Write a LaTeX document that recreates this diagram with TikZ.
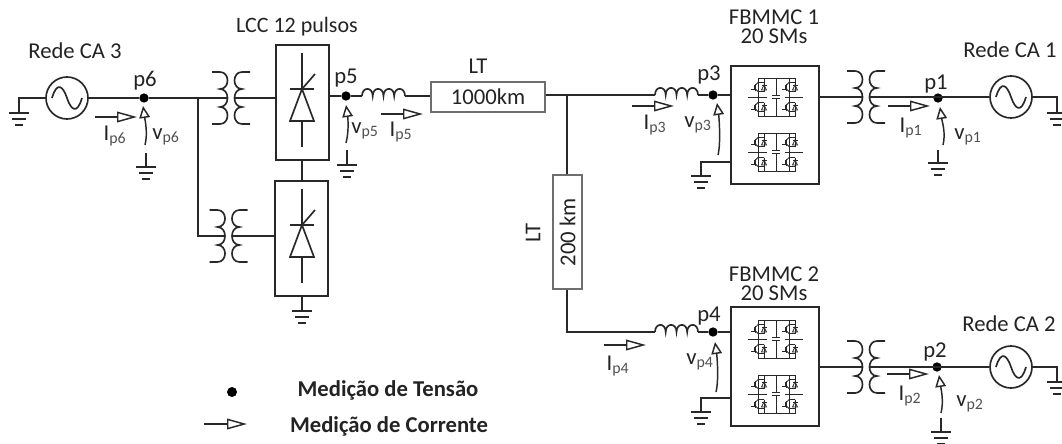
\documentclass[tikz,border=0pt]{standalone}
\usepackage{fontspec}
\setmainfont{Carlito}
\usetikzlibrary{arrows.meta, positioning}
\definecolor{inkgray}{RGB}{35, 35, 35}
\definecolor{subgray}{RGB}{80, 80, 80}
\definecolor{linegray}{RGB}{40, 40, 40}
\definecolor{ltgray}{RGB}{110, 110, 110}

\begin{document}
\begin{tikzpicture}[
  x=0.75pt, y=-0.75pt,
  wire/.style={draw=linegray, line width=1.25pt},
  thin wire/.style={draw=linegray, line width=0.55pt},
  mdot/.style={circle, fill=black, inner sep=0pt, minimum size=7pt},
  srcnode/.style={draw=linegray, line width=1.25pt, circle, inner sep=0pt, minimum size=31.5pt},
  cbox/.style={draw=linegray, line width=1.25pt, inner sep=0pt},
  ltbox/.style={draw=ltgray, line width=0.8pt, inner sep=0pt, font=\fontsize{17}{19}\selectfont, text=inkgray},
  lbl/.style={font=\fontsize{17}{19}\selectfont, text=inkgray, inner sep=0pt, align=center},
  meas/.style={font=\fontsize{17}{19}\selectfont, text=inkgray, inner sep=0pt},
  iarrow/.style={draw=linegray, line width=1.1pt, -{Triangle[open, length=15pt, width=8pt, line width=1.1pt]}},
  varrow/.style={draw=linegray, line width=1.1pt, -{Triangle[open, length=9pt, width=8pt, line width=1.1pt]}},
  gnd/.pic={
    \coordinate (-top) at (0,0);
    \draw[wire] (-10,0) -- (10,0);
    \draw[wire] (-7,6) -- (7,6);
    \draw[wire] (-4,12) -- (4,12);
  },
  trafo/.pic={
    \coordinate (-pri) at (-4,0);
    \coordinate (-sec) at (4,0);
    \draw[wire] (-19,-26) -- (-11,-26)
      .. controls (-1,-26) and (-1,-9) .. (-11,-9)
      .. controls (-1,-9) and (-1,9) .. (-11,9)
      .. controls (-1,9) and (-1,26) .. (-11,26) -- (-19,26);
    \draw[wire] (19,-26) -- (11,-26)
      .. controls (1,-26) and (1,-9) .. (11,-9)
      .. controls (1,-9) and (1,9) .. (11,9)
      .. controls (1,9) and (1,26) .. (11,26) -- (19,26);
  },
  coil/.pic={
    \coordinate (-in) at (0,0);
    \coordinate (-out) at (43,0);
    \draw[wire] (0,0) .. controls (0,-9.5) and (10.7,-9.5) .. (10.7,0)
      .. controls (10.7,-9.5) and (21.5,-9.5) .. (21.5,0)
      .. controls (21.5,-9.5) and (32.2,-9.5) .. (32.2,0)
      .. controls (32.2,-9.5) and (43,-9.5) .. (43,0);
  },
  thyristor/.pic={
    \draw[wire] (0,-47) -- (0,47);
    \draw[wire] (-12,-11) -- (12,-11);
    \draw[wire, fill=white] (0,-11) -- (12,21) -- (-12,21) -- cycle;
    \draw[wire] (0,-11) -- (13,-26);
  },
  igbt/.pic={
    \draw[thin wire] (-5,2) -- (-2,2) -- (-2,-2);
    \draw[thin wire] (-1,-3.5) -- (-1,3.5);
    \draw[thin wire] (-1,-1.5) -- (2,-4.5) -- (8,-4.5);
    \draw[thin wire] (-1,1.5) -- (2,4.5) -- (8,4.5);
    \draw[thin wire] (8,-4.5) -- (8,4.5);
    \draw[thin wire] (5.5,3) -- (10.5,3) -- (8,-2) -- cycle;
    \draw[thin wire] (5.5,-2) -- (10.5,-2);
  },
  smcell/.pic={
    \draw[thin wire] (-18,-19) -- (20,-19);
    \draw[thin wire] (-18,19) -- (20,19);
    \draw[thin wire] (0,-19) -- (0,-1.5);
    \draw[thin wire] (0,1.5) -- (0,19);
    \draw[thin wire] (-4,-1.5) -- (4,-1.5);
    \draw[thin wire] (-4,1.5) -- (4,1.5);
    \draw[thin wire] (-18,-19) -- (-18,19);
    \draw[thin wire] (13,-19) -- (13,19);
    \draw[thin wire] (-12,-19) -- (-12,-14);
    \draw[thin wire] (-12,14) -- (-12,19);
    \draw[thin wire] (19,-19) -- (19,-14);
    \draw[thin wire] (19,14) -- (19,19);
    \draw[thin wire] (-28,0) -- (-9,0);
    \draw[thin wire] (9,0) -- (27,0);
    \pic at (-20,-10) {igbt};
    \pic at (-20,10) {igbt};
    \pic at (11,-10) {igbt};
    \pic at (11,10) {igbt};
  }
]
  \useasboundingbox (0,0) rectangle (1062,443);

  % fontes
  \foreach \name/\x/\y in {src3/67/98, src1/1011/97, src2/1011/367} {
    \node[srcnode] (\name) at (\x,\y) {};
    \draw[wire] ({\x-15},\y) .. controls ({\x-10},{\y-17}) and ({\x-4},{\y-12}) .. (\x,\y)
      .. controls ({\x+4},{\y+12}) and ({\x+10},{\y+17}) .. ({\x+15},\y);
  }
  \node[lbl] (redeC) at (75,51) {Rede CA 3};
  \node[lbl] (redeA) at (1010,50) {Rede CA 1};
  \node[lbl] (redeB) at (1009,324) {Rede CA 2};

  % LCC
  \node[cbox, minimum width=39.75pt, minimum height=86.25pt] (lcc1) at (302.5,102.5) {};
  \node[cbox, minimum width=39.75pt, minimum height=86.25pt] (lcc2) at (301.5,238.5) {};
  \pic at (302,100) {thyristor};
  \pic at (302,236) {thyristor};
  \node[lbl, font=\fontsize{16.5}{19}\selectfont] (lcclbl) at (297,27) {LCC 12 pulsos};
  \draw[wire] (lcc1) -- (lcc2);

  % FBMMC
  \node[cbox, minimum width=66pt, minimum height=88.5pt] (fb1) at (775,125) {};
  \node[cbox, minimum width=66pt, minimum height=89.25pt] (fb2) at (775,366.5) {};
  \foreach \y in {97,152,339,394} \pic at (776,\y) {smcell};
  \node[lbl, font=\fontsize{17}{14.5}\selectfont] (fb1lbl) at (774,26.5) {FBMMC 1\\20 SMs};
  \node[lbl, font=\fontsize{17}{14.5}\selectfont] (fb2lbl) at (774,283.5) {FBMMC 2\\20 SMs};

  % linhas
  \node[ltbox, minimum width=85.5pt, minimum height=22.5pt] (lt1) at (488,97) {1000km};
  \node[ltbox, minimum width=85.5pt, minimum height=21.75pt, rotate=90] (lt2) at (567.5,232) {200 km};
  \node[lbl] (lt1lbl) at (478,66) {LT};
  \node[lbl, rotate=90] (lt2lbl) at (533,233) {LT};

  % trafos e bobinas
  \pic (t6) at (231,98) {trafo};
  \pic (t5) at (228.5,236) {trafo};
  \pic (t1) at (866,97) {trafo};
  \pic (t2) at (866,367) {trafo};
  \pic (l5) at (362,96) {coil};
  \pic (l3) at (655,95) {coil};
  \pic (l4) at (655,332) {coil};

  % pontos de medicao
  \foreach \name/\x/\y/\lx/\ly in {p6/144/98/145/81, p5/346/96/346/78, p3/713/95/709/75,
      p4/713/332/709/316, p1/938/98/936/84, p2/937/367/935/352} {
    \node[mdot] (\name) at (\x,\y) {};
    \node[lbl] (\name lbl) at (\lx,\ly) {\name};
  }
  \coordinate (jt) at (198,98);
  \coordinate (jlt) at (567,95);

  % terras
  \foreach \n/\x/\ya/\yb in {p6/146/153/167, p5/347/150/165, p1/938/150/163,
      p2/941/418/432, lcc/302/296/311} {
    \coordinate (gs\n) at (\x,\ya);
    \pic (g\n) at (\x,\yb) {gnd};
    \draw[wire] (gs\n) -- (g\n-top);
  }
  \pic (gsrc3) at (19,113) {gnd};
  \pic (gsrc1) at (1057,113) {gnd};
  \pic (gsrc2) at (1057,382) {gnd};
  \pic (gfb1) at (701,176) {gnd};
  \pic (gfb2) at (701,412) {gnd};
  \coordinate (fb1g) at (731,162);
  \coordinate (fb2g) at (731,398);

  % ligacoes
  \draw[wire] (gsrc3-top) |- (src3);
  \draw[wire] (src3) -- (p6) -- (t6-pri);
  \draw[wire] (jt) |- (t5-pri);
  \draw[wire] (t6-sec) -- (t6-sec -| lcc1.west);
  \draw[wire] (t5-sec) -- (t5-sec -| lcc2.west);
  \draw[wire] (p5 -| lcc1.east) -- (p5) -- (l5-in);
  \draw[wire] (l5-out) -- (l5-out -| lt1.west);
  \draw[wire] (l3-in -| lt1.east) -- (l3-in);
  \draw[wire] (jlt) -- (jlt |- lt2.east);
  \draw[wire] (jlt |- lt2.west) |- (l4-in);
  \draw[wire] (l3-out) -- (p3) -- (p3 -| fb1.west);
  \draw[wire] (l4-out) -- (p4) -- (p4 -| fb2.west);
  \draw[wire] (fb1g) -| (gfb1-top);
  \draw[wire] (fb2g) -| (gfb2-top);
  \draw[wire] (t1-pri -| fb1.east) -- (t1-pri);
  \draw[wire] (t2-pri -| fb2.east) -- (t2-pri);
  \draw[wire] (t1-sec) -- (src1);
  \draw[wire] (t2-sec) -- (src2);
  \draw[wire] (src1) -| (gsrc1-top);
  \draw[wire] (src2) -| (gsrc2-top);

  % correntes
  \foreach \name/\xa/\y/\lx/\ly in {p6/95/117/115/136, p5/381/114/401/132, p3/632/106/655/125,
      p4/604/345/618/366, p1/888/106/911/128, p2/887/374/910/396} {
    \coordinate (i\name a) at (\xa,\y);
    \coordinate (i\name b) at ({\xa+42},\y);
    \draw[iarrow] (i\name a) -- (i\name b);
    \node[meas] (i\name lbl) at (\lx,\ly) {I\textsubscript{\textcolor{subgray}{\name}}};
  }
  % tensoes
  \foreach \name/\xa/\ya/\xb/\yb/\lx/\ly in {p6/145/145/143/106/166/137, p5/346/143/346/105/365/131,
      p3/718/155/717/103/698/125, p4/716/392/715/342/700/362, p1/943/145/940/107/968/137,
      p2/941/413/939/375/970/404} {
    \coordinate (v\name a) at (\xa,\ya);
    \coordinate (v\name b) at (\xb,\yb);
    \draw[varrow] (v\name a) .. controls +(3,-12) and +(2,14) .. (v\name b);
    \node[meas] (v\name lbl) at (\lx,\ly) {v\textsubscript{\textcolor{subgray}{\name}}};
  }

  % legenda
  \node[mdot, minimum size=7.5pt] (legdot) at (232,392) {};
  \coordinate (lega) at (204,424);
  \coordinate (legb) at (247,424);
  \draw[iarrow] (lega) -- (legb);
  \node[lbl, font=\fontsize{17}{19}\bfseries] (legv) at (388,390) {Medição de Tensão};
  \node[lbl, font=\fontsize{17}{19}\bfseries] (legi) at (389,426) {Medição de Corrente};
\end{tikzpicture}
\end{document}
